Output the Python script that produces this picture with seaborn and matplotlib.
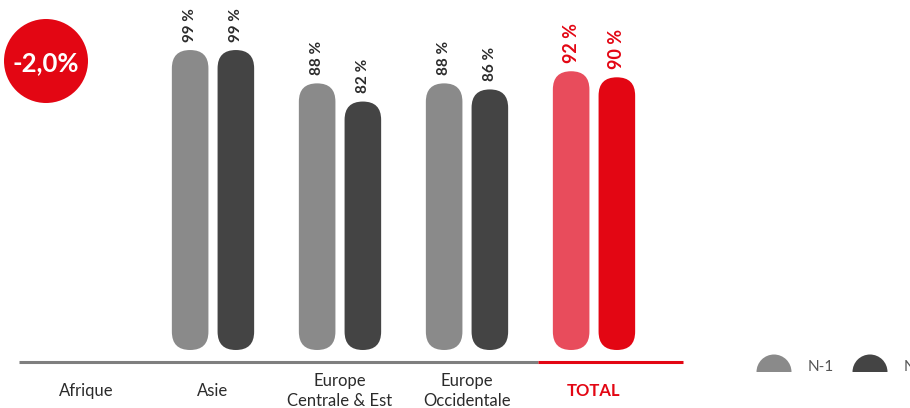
import numpy as np
import pandas as pd
import matplotlib
matplotlib.use("Agg")
import matplotlib.pyplot as plt
import seaborn as sns
from matplotlib.patches import FancyBboxPatch, Circle, Wedge

# ---- data -------------------------------------------------------------
categories = ["Afrique", "Asie", "Europe\nCentrale & Est", "Europe\nOccidentale", "TOTAL"]
series = ["N-1", "N"]
n1_values = [np.nan, 99, 88, 88, 92]
n_values = [np.nan, 99, 82, 86, 90]
variation_label = "-2,0%"

# ---- style ------------------------------------------------------------
GREY_N1, GREY_N = "#8a8a8a", "#444444"
RED_N1, RED_N = "#e84c5c", "#e30613"
TEXT_DARK = "#2b2b2b"

sns.set_theme(style="white")
plt.rcParams["font.family"] = ["Lato", "DejaVu Sans"]

df = pd.DataFrame({
    "region": categories * 2,
    "serie": [series[0]] * len(categories) + [series[1]] * len(categories),
    "valeur": n1_values + n_values,
})

W, H = 910, 408
fig = plt.figure(figsize=(W / 100, H / 100), dpi=100)
fig.patch.set_facecolor("white")

# plot area in pixels
left_px, right_px, bottom_px = 19, 683, 362
ax = fig.add_axes([left_px / W, (H - bottom_px) / H, (right_px - left_px) / W, bottom_px / H])

sns.barplot(data=df, x="region", y="valeur", hue="serie", order=categories,
            hue_order=series, palette=[GREY_N1, GREY_N], width=0.72, gap=0.2,
            errorbar=None, legend=False, ax=ax)

# scale: category spacing and value scale in pixels
first_cat_px, cat_step_px = 86, 127.0
zero_px, px_per_unit = 350, 3.03
ax.set_xlim((left_px - first_cat_px) / cat_step_px, (right_px - first_cat_px) / cat_step_px)
ax.set_ylim(-(bottom_px - zero_px) / px_per_unit, zero_px / px_per_unit)
aspect = cat_step_px / px_per_unit
ax.axis("off")

total_idx = categories.index("TOTAL")

# replace the square bars with pill-shaped ones
for p in list(ax.patches):
    x, w, h = p.get_x(), p.get_width(), p.get_height()
    color = p.get_facecolor()
    p.remove()
    if not np.isfinite(h) or h <= 0:
        continue
    cx = x + w / 2
    cat = int(round(cx))
    is_n1 = cx < cat
    if cat == total_idx:
        color = RED_N1 if is_n1 else RED_N
    pill = FancyBboxPatch((x, 0), w, h,
                          boxstyle=f"round,pad=0,rounding_size={w / 2}",
                          mutation_aspect=aspect, fc=color, ec="none")
    ax.add_patch(pill)
    is_total = cat == total_idx
    ax.annotate(f"{h:.0f} %", (cx, h), xytext=(0, 6), textcoords="offset points",
                rotation=90, ha="center", va="bottom",
                fontsize=13 if is_total else 11, fontweight="bold",
                color=RED_N if is_total else TEXT_DARK)

# baseline: grey under regions, red under the total
split = 3.56
x0, x1 = ax.get_xlim()
frac = (split - x0) / (x1 - x0)
ax.plot([0, frac], [0, 0], transform=ax.transAxes, color="#7f7f7f", lw=2.2,
        clip_on=False, solid_capstyle="butt")
ax.plot([frac, 1], [0, 0], transform=ax.transAxes, color=RED_N, lw=2.2,
        clip_on=False, solid_capstyle="butt")

# category labels
for i, cat in enumerate(categories):
    is_total = i == total_idx
    ax.annotate(cat, (i, 0), xycoords=("data", "axes fraction"),
                xytext=(0, -(391 - bottom_px) * 0.72), textcoords="offset points",
                ha="center", va="center", fontsize=12, linespacing=1.25,
                fontweight="bold" if is_total else "normal",
                color=RED_N if is_total else TEXT_DARK)

# decorations drawn in pixel space: variation badge and legend
deco = fig.add_axes([0, 0, 1, 1], zorder=5)
deco.set_xlim(0, W)
deco.set_ylim(0, H)
deco.axis("off")
deco.patch.set_alpha(0)

deco.add_patch(Circle((46, H - 61), 42, fc=RED_N, ec="none"))
deco.text(46, H - 63, variation_label, ha="center", va="center",
          fontsize=18.5, fontweight="bold", color="white")

legend_items = [(774, series[0], GREY_N1), (870, series[1], GREY_N)]
for cx, lab, col in legend_items:
    deco.add_patch(Wedge((cx, H - 372), 17.5, 0, 180, fc=col, ec="none"))
    deco.text(cx + 34, H - 367, lab, ha="left", va="center", fontsize=11,
              color="#555555")

fig.savefig("out.png", dpi=100, facecolor="white")
